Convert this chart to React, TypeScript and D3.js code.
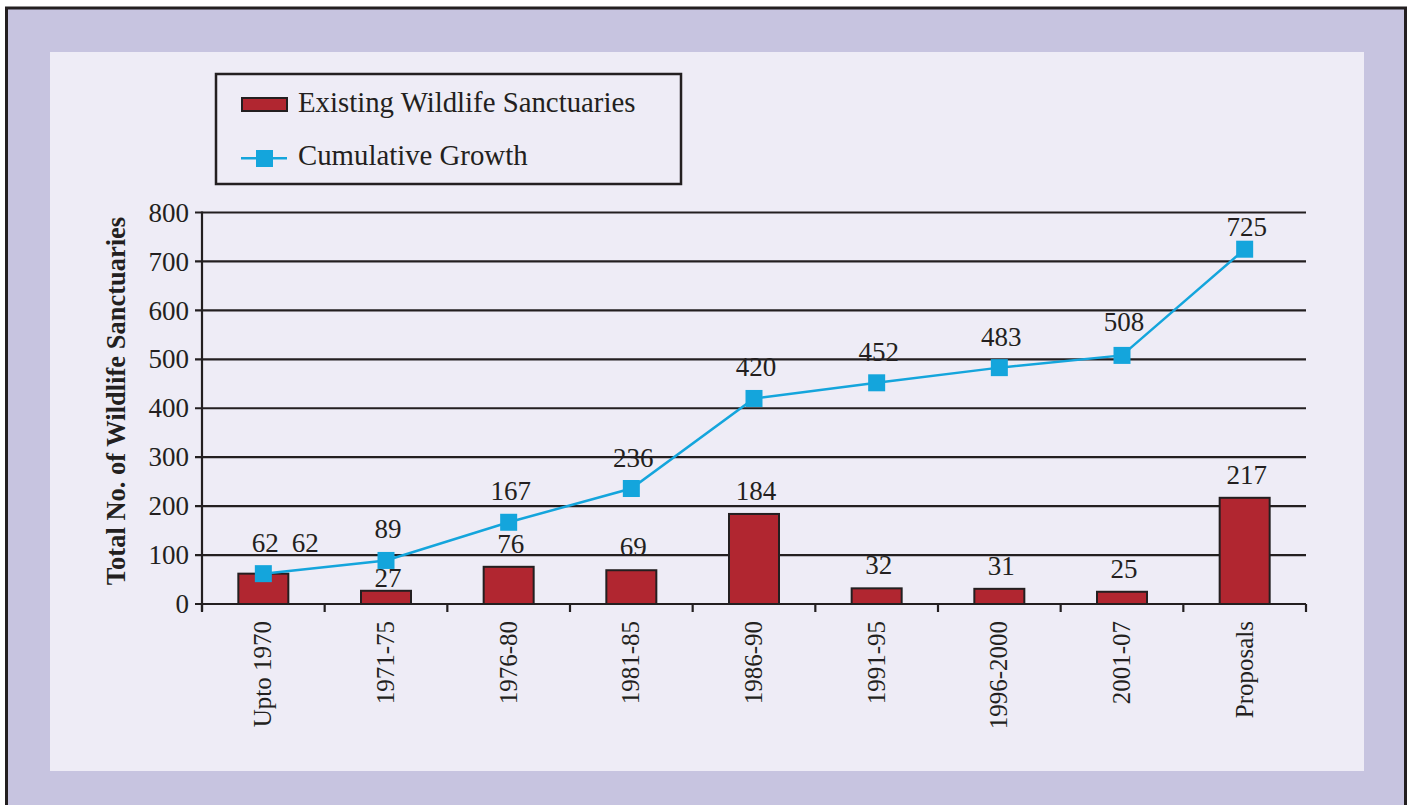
import React from "react";
import * as d3 from "d3";

const categories = ["Upto 1970", "1971-75", "1976-80", "1981-85", "1986-90", "1991-95", "1996-2000", "2001-07", "Proposals"];
const existing = [62, 27, 76, 69, 184, 32, 31, 25, 217];
const cumulative = [62, 89, 167, 236, 420, 452, 483, 508, 725];
const yTicks = [0, 100, 200, 300, 400, 500, 600, 700, 800];
const legendLabels = ["Existing Wildlife Sanctuaries", "Cumulative Growth"];

// label placement tweaks (pixels), kept apart from the data
const barLabelAdjust: Record<number, { dx: number; dy: number }> = {
  0: { dx: 40, dy: -8 },
  1: { dx: 0, dy: 10 },
};
const lineLabelAdjust: Record<number, { dx: number; dy: number }> = {
  7: { dx: 2, dy: -2 },
  8: { dx: 2, dy: 9 },
};

const FONT = "'Liberation Serif', 'Times New Roman', Times, serif";
const INK = "#231f20";
const BAR = "#b12630";
const LINE = "#14a5dc";

export default function App() {
  const x = d3.scaleBand<string>().domain(categories).range([202, 1306]).padding(0);
  const y = d3.scaleLinear().domain([0, 800]).range([604, 212.5]);
  const bw = 50;
  const cx = (c: string) => (x(c) as number) + x.bandwidth() / 2;
  const line = d3
    .line<number>()
    .x((_, i) => cx(categories[i]))
    .y((d) => y(d));
  const boundaries = categories.map((c) => x(c) as number).concat([1306]);

  return (
    <svg
      width={1413}
      height={805}
      style={{ position: "fixed", left: 0, top: 0, background: "#ffffff" }}
    >
      <rect x={6.5} y={8} width={1399} height={820} fill="#c7c4e0" stroke={INK} strokeWidth={3} />
      <rect x={50} y={52} width={1314} height={719} fill="#eeecf6" />

      {/* legend */}
      <rect x={216} y={74} width={465} height={110} fill="#eeecf6" stroke={INK} strokeWidth={2.5} />
      <rect x={242} y={98} width={45} height={13} fill={BAR} stroke={INK} strokeWidth={2} />
      <text x={298} y={111.5} fontFamily={FONT} fontSize={28.8} fill={INK}>{legendLabels[0]}</text>
      <line x1={241} x2={287} y1={158.3} y2={158.3} stroke={LINE} strokeWidth={2.5} />
      <rect x={256} y={150} width={17} height={17} fill={LINE} />
      <text x={298} y={164.5} fontFamily={FONT} fontSize={28.8} fill={INK}>{legendLabels[1]}</text>

      {/* gridlines and y ticks */}
      {yTicks.map((t) => (
        <g key={t}>
          <line x1={195} x2={1306} y1={y(t)} y2={y(t)} stroke={INK} strokeWidth={2.2} />
          <text
            x={189}
            y={y(t)}
            dy="0.34em"
            textAnchor="end"
            fontFamily={FONT}
            fontSize={27}
            fill={INK}
          >
            {t}
          </text>
        </g>
      ))}
      {/* y axis */}
      <line x1={202} x2={202} y1={211.5} y2={611} stroke={INK} strokeWidth={2.2} />
      {/* x ticks */}
      {boundaries.map((b, i) => (
        <line key={i} x1={b} x2={b} y1={604} y2={612} stroke={INK} strokeWidth={2.2} />
      ))}

      {/* bars */}
      {existing.map((v, i) => (
        <rect
          key={i}
          x={cx(categories[i]) - bw / 2}
          y={y(v)}
          width={bw}
          height={y(0) - y(v)}
          fill={BAR}
          stroke={INK}
          strokeWidth={2}
        />
      ))}

      {/* line */}
      <path d={line(cumulative) as string} fill="none" stroke={LINE} strokeWidth={2.5} />
      {cumulative.map((v, i) => (
        <rect key={i} x={cx(categories[i]) - 8.5} y={y(v) - 8.5} width={17} height={17} fill={LINE} />
      ))}

      {/* bar labels */}
      {existing.map((v, i) => {
        const a = barLabelAdjust[i] || { dx: 0, dy: 0 };
        return (
          <text
            key={i}
            x={cx(categories[i]) + 2 + a.dx}
            y={y(v) - 14 + a.dy}
            textAnchor="middle"
            fontFamily={FONT}
            fontSize={27}
            fill={INK}
          >
            {v}
          </text>
        );
      })}
      {/* line labels */}
      {cumulative.map((v, i) => {
        const a = lineLabelAdjust[i] || { dx: 2, dy: 0 };
        return (
          <text
            key={i}
            x={cx(categories[i]) + a.dx}
            y={y(v) - 22 + a.dy}
            textAnchor="middle"
            fontFamily={FONT}
            fontSize={27}
            fill={INK}
          >
            {v}
          </text>
        );
      })}

      {/* category labels */}
      {categories.map((c) => (
        <text
          key={c}
          transform={`translate(${cx(c) + 8},621) rotate(-90)`}
          textAnchor="end"
          fontFamily={FONT}
          fontSize={25}
          fill={INK}
        >
          {c}
        </text>
      ))}

      {/* y title */}
      <text
        transform="translate(125,401) rotate(-90)"
        textAnchor="middle"
        fontFamily={FONT}
        fontSize={26.5}
        fontWeight="bold"
        fill={INK}
      >
        Total No. of Wildlife Sanctuaries
      </text>
    </svg>
  );
}
